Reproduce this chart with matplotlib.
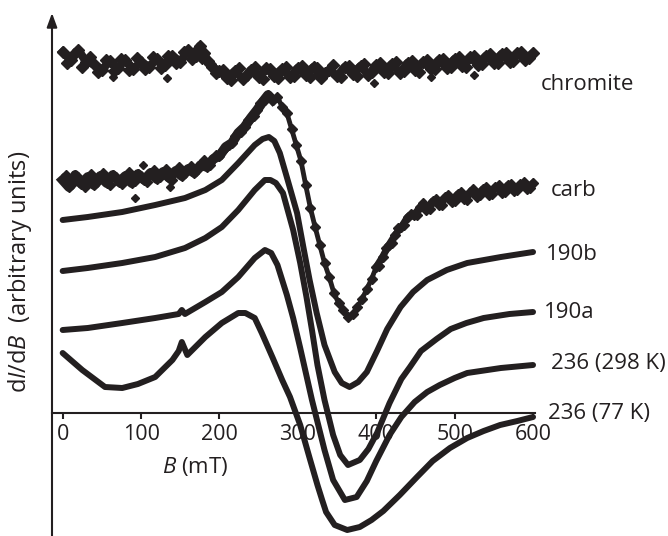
import matplotlib
matplotlib.use("Agg")
import matplotlib.pyplot as plt

plt.rcParams['font.family'] = 'Open Sans'
plt.rcParams['mathtext.fontset'] = 'custom'
plt.rcParams['mathtext.rm'] = 'Open Sans'
plt.rcParams['mathtext.it'] = 'Open Sans:italic'

ink = '#231f20'

# field values in mT, signal in arbitrary units (stacked with offsets)
chromite_b = [0, 10, 20, 30, 40, 50, 60, 70, 80, 90, 100, 110, 120, 130, 140, 150, 160,
              170, 175, 180, 185, 190, 200, 210, 220, 230, 240, 250, 260, 270, 280, 290,
              300, 310, 320, 330, 340, 350, 360, 370, 380, 390, 400, 410, 420, 430, 440,
              450, 460, 470, 480, 490, 500, 510, 520, 530, 540, 550, 560, 570, 580, 590, 600]
chromite_y = [361, 353, 363, 351, 349, 343, 352, 345, 353, 344, 351, 346, 354, 348, 357, 351, 363,
              357, 367, 360, 352, 346, 342, 335, 342, 334, 343, 336, 345, 337, 344, 336,
              345, 338, 346, 335, 343, 337, 346, 339, 347, 338, 348, 341, 349, 340, 350,
              343, 351, 344, 353, 345, 354, 347, 356, 348, 357, 350, 359, 351, 360, 353, 360]
# second scan of the same sample, read between the points above
chromite2_b = [5, 15, 25, 35, 45, 55, 65, 75, 85, 95, 105, 115, 125, 135, 145, 155, 165,
               172, 178, 188, 195, 205, 215, 225, 235, 245, 255, 265, 275, 285, 295, 305,
               315, 325, 335, 345, 355, 365, 375, 385, 395, 405, 415, 425, 435, 445, 455,
               465, 475, 485, 495, 505, 515, 525, 535, 545, 555, 565, 575, 585, 595]
chromite2_y = [350, 359, 346, 356, 341, 353, 342, 354, 343, 355, 344, 356, 345, 357, 350, 361, 354,
               364, 355, 349, 340, 343, 333, 345, 338, 346, 334, 344, 335, 346, 337, 347,
               336, 345, 340, 348, 336, 347, 337, 349, 341, 350, 340, 351, 342, 352, 341,
               353, 344, 354, 346, 356, 346, 357, 349, 359, 350, 360, 352, 361, 355]
chromite_out_b = [64, 133, 397, 470, 525]
chromite_out_y = [336, 335, 330, 336, 338]

carb_b = [0, 8, 16, 24, 32, 40, 48, 56, 64, 72, 80, 88, 96, 104, 112, 120, 128, 136, 144,
          152, 160, 168, 176, 184, 192, 200, 208, 216, 224, 232, 240, 248, 256, 262, 268,
          274, 280, 286, 292, 298, 304, 310, 316, 322, 328, 334, 340, 346, 352, 358, 364,
          370, 376, 382, 388, 394, 400, 408, 416, 424, 432, 440, 448, 456, 464, 472, 480,
          488, 496, 504, 512, 520, 528, 536, 544, 552, 560, 568, 576, 584, 592, 600]
carb_y = [233, 226, 238, 229, 236, 228, 237, 230, 238, 231, 237, 230, 239, 233, 240, 234, 241,
          235, 242, 237, 244, 240, 248, 246, 254, 257, 266, 270, 280, 286, 295, 303, 312, 318,
          313, 316, 306, 300, 284, 268, 252, 228, 205, 186, 168, 150, 136, 120, 110, 103, 96,
          99, 106, 114, 124, 134, 146, 156, 168, 178, 186, 196, 198, 206, 203, 212, 208,
          216, 211, 219, 214, 221, 216, 224, 218, 226, 220, 228, 222, 229, 224, 230]
carb2_b = [4, 12, 20, 28, 36, 44, 52, 60, 68, 76, 84, 92, 100, 108, 116, 124, 132, 140, 148,
           156, 164, 172, 180, 188, 196, 204, 212, 220, 228, 236, 244, 252, 258,
           404, 412, 420, 428, 436, 444, 452, 460, 468, 476, 484, 492, 500, 508, 516, 524,
           532, 540, 548, 556, 564, 572, 580, 588, 596]
carb2_y = [238, 229, 236, 226, 239, 231, 240, 228, 236, 229, 241, 232, 237, 231, 243, 236, 244,
           233, 246, 240, 247, 244, 253, 248, 258, 263, 268, 277, 281, 293, 297, 310, 313,
           147, 165, 170, 185, 188, 199, 198, 210, 204, 214, 208, 218, 212, 221, 213, 224,
           218, 226, 219, 228, 221, 229, 223, 231, 225]
carb_out_b = [92, 103, 137]
carb_out_y = [215, 248, 226]

b_190b = [0, 32, 76, 118, 156, 182, 203, 224, 245, 255, 263, 270, 277, 287, 299, 307, 315,
          324, 334, 347, 356, 366, 377, 388, 401, 414, 431, 447, 465, 490, 516, 559, 600]
y_190b = [193, 196, 201, 208, 215, 223, 233, 250, 268, 274, 276, 272, 260, 233, 200, 166, 133,
          100, 68, 41, 30, 26, 31, 41, 62, 84, 106, 121, 133, 143, 150, 156, 161]

b_190a = [0, 32, 76, 118, 156, 182, 203, 224, 245, 258, 265, 272, 281, 294, 303, 311, 318,
          325, 334, 345, 354, 364, 379, 390, 401, 417, 432, 443, 457, 477, 495, 515, 537,
          570, 600]
y_190a = [142, 145, 150, 156, 165, 175, 186, 203, 223, 233, 233, 230, 220, 183, 150, 116, 83,
          48, 13, -22, -42, -52, -47, -36, -20, 10, 34, 46, 62, 74, 84, 90, 95,
          99, 101]

b_298 = [0, 32, 76, 118, 148, 152, 156, 182, 203, 224, 245, 258, 266, 274, 286, 294, 303,
         318, 334, 345, 360, 375, 388, 400, 417, 432, 449, 465, 481, 500, 516, 559, 600]
y_298 = [83, 85, 90, 95, 99, 103, 99, 111, 121, 136, 155, 163, 160, 148, 118, 95, 65,
         13, -37, -67, -87, -84, -68, -48, -22, -4, 11, 21, 28, 35, 40, 45, 48]

b_77 = [0, 25, 54, 76, 96, 118, 140, 148, 152, 159, 182, 203, 224, 233, 245, 254, 268, 280,
        290, 303, 315, 325, 331, 336, 347, 363, 379, 394, 409, 430, 452, 472, 494, 516, 537,
        558, 580, 600]
y_77 = [60, 43, 26, 25, 29, 36, 53, 62, 71, 58, 76, 90, 100, 100, 95, 80, 55, 33,
        16, -12, -45, -72, -87, -99, -112, -117, -114, -107, -98, -82, -64, -48, -35, -25, -18,
        -12, -8, -4]

labels = ['chromite', 'carb', '190b', '190a', '236 (298 K)', '236 (77 K)']
xticks = [0, 100, 200, 300, 400, 500, 600]

fig = plt.figure(figsize=(6.68, 5.36), dpi=100)
ax = fig.add_axes([52 / 668, 0, 483 / 668, 523 / 536])
ax.set_xlim(-13.6, 602.5)
ax.set_ylim(-123, 400)

# noisy spectra: thick ragged band of diamonds
ax.plot(chromite_b, chromite_y, color=ink, lw=6, zorder=3, clip_on=False)
ax.plot(chromite_b, chromite_y, ls='none', color=ink, marker='D', ms=6, zorder=3, clip_on=False)
ax.plot(chromite2_b, chromite2_y, ls='none', color=ink, marker='D', ms=6, zorder=3, clip_on=False)
ax.plot(chromite_out_b, chromite_out_y, ls='none', color=ink, marker='D', ms=4.5, zorder=3)

flat_left = [(b, y) for b, y in zip(carb_b, carb_y) if b <= 268]
flat_right = [(b, y) for b, y in zip(carb_b, carb_y) if b >= 400]
ax.plot(*zip(*flat_left), color=ink, lw=7, zorder=3)
ax.plot(*zip(*flat_right), color=ink, lw=5, zorder=3, clip_on=False)
ax.plot(carb_b, carb_y, color=ink, lw=3.5, marker='D', ms=5.5, zorder=3, clip_on=False)
ax.plot(carb2_b, carb2_y, ls='none', color=ink, marker='D', ms=5.5, zorder=3, clip_on=False)
ax.plot(carb_out_b, carb_out_y, ls='none', color=ink, marker='D', ms=4.5, zorder=3)

# smooth spectra
for bb, yy in [(b_190b, y_190b), (b_190a, y_190a), (b_298, y_298), (b_77, y_77)]:
    ax.plot(bb, yy, color=ink, lw=4.3, solid_capstyle='round', solid_joinstyle='round',
            zorder=3, clip_on=False)

# curve labels
label_pos = [(610, 329), (623, 223), (616, 159), (614, 101), (623, 49), (619, 0)]
for txt, (lx, ly) in zip(labels, label_pos):
    ax.text(lx, ly, txt, fontsize=16, color=ink, ha='left', va='center')

# axes: x axis through zero, y axis as arrow
for s in ['top', 'right', 'left']:
    ax.spines[s].set_visible(False)
ax.spines['bottom'].set_position(('data', 0))
ax.spines['bottom'].set_linewidth(1.5)
ax.spines['bottom'].set_color(ink)
ax.set_xticks(xticks)
ax.set_xticklabels([str(t) for t in xticks])
ax.tick_params(axis='x', direction='out', length=4, width=1.5, color=ink,
               labelsize=15.5, labelcolor=ink, pad=4)
ax.set_yticks([])
ax.annotate('', xy=(0, 1), xytext=(0, 0), xycoords='axes fraction',
            arrowprops=dict(arrowstyle='-|>,head_length=0.6,head_width=0.22',
                            color=ink, lw=1.5, mutation_scale=14, shrinkA=0, shrinkB=0))

ax.text(169, -53, r'$\it{B}$ (mT)', fontsize=16, color=ink, ha='center', va='center')
fig.text(20 / 668, 1 - 272 / 536, r'd$\it{I}$/d$\it{B}$  (arbitrary units)', fontsize=17,
         color=ink, rotation=90, ha='center', va='center')

fig.savefig('out.png', dpi=100)
